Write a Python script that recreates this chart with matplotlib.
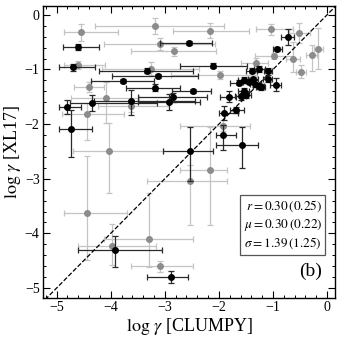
import numpy as np
import matplotlib
matplotlib.use("Agg")
from matplotlib import pyplot as plt
from matplotlib.ticker import MultipleLocator

# black points: x, y, x-, x+, y-, y+
bx = [-0.73, -4.60, -2.55, -4.70, -3.32, -2.10, -3.12, -3.78, -3.18, -2.48,
      -2.85, -3.63, -4.35, -2.93, -4.81, -4.73, -2.54, -1.57, -1.93, -3.92,
      -2.88, -0.92, -1.39, -1.25, -1.09, -1.10, -1.63, -1.54, -1.45, -1.37,
      -1.33, -1.26, -1.23, -0.95, -1.82, -1.60, -1.54, -1.50, -1.68, -1.90]
by = [-0.41, -0.59, -0.52, -0.96, -1.02, -0.93, -1.12, -1.21, -1.33, -1.39,
      -1.51, -1.57, -1.61, -1.59, -1.68, -2.09, -2.50, -2.38, -2.20, -4.30,
      -4.80, -0.62, -1.02, -0.99, -1.02, -1.17, -1.24, -1.19, -1.22, -1.18,
      -1.26, -1.30, -1.32, -1.28, -1.50, -1.48, -1.39, -1.47, -1.74, -1.79]
bx_lo = [0.12, 0.29, 0.53, 0.25, 0.89, 0.61, 0.86, 0.58, 0.53, 0.38,
         0.65, 0.67, 0.40, 0.57, 0.14, 0.22, 0.50, 0.49, 0.13, 0.68,
         0.44, 0.08, 0.10, 0.10, 0.08, 0.08, 0.17, 0.10, 0.10, 0.10,
         0.10, 0.10, 0.08, 0.10, 0.15, 0.10, 0.10, 0.10, 0.12, 0.10]
bx_hi = [0.12, 0.39, 0.43, 0.41, 0.85, 0.62, 0.73, 0.58, 0.46, 0.33,
         0.63, 1.18, 1.20, 0.58, 0.26, 0.38, 0.44, 0.30, 0.24, 0.86,
         0.31, 0.08, 0.10, 0.10, 0.08, 0.08, 0.18, 0.10, 0.10, 0.10,
         0.10, 0.10, 0.08, 0.10, 0.13, 0.10, 0.10, 0.10, 0.14, 0.26]
by_lo = [0.15, 0.05, 0.04, 0.06, 0.04, 0.05, 0.04, 0.04, 0.06, 0.04,
         0.08, 0.26, 0.15, 0.15, 0.13, 0.51, 0.55, 0.43, 0.27, 0.31,
         0.11, 0.04, 0.05, 0.05, 0.05, 0.06, 0.05, 0.05, 0.05, 0.05,
         0.06, 0.06, 0.05, 0.12, 0.10, 0.08, 0.06, 0.06, 0.05, 0.13]
by_hi = [0.15, 0.05, 0.04, 0.06, 0.04, 0.05, 0.04, 0.04, 0.06, 0.04,
         0.08, 0.20, 0.15, 0.15, 0.13, 0.35, 0.45, 0.33, 0.19, 0.25,
         0.11, 0.04, 0.05, 0.05, 0.05, 0.06, 0.05, 0.05, 0.05, 0.05,
         0.06, 0.06, 0.05, 0.12, 0.10, 0.08, 0.06, 0.06, 0.05, 0.13]

# grey points
gx = [-4.54, -3.19, -2.17, -1.04, -0.51, -3.08, -2.83, -4.60, -3.26, -1.98,
      -4.41, -4.08, -3.63, -4.43, -4.03, -2.54, -2.17, -1.92, -4.43, -3.97,
      -3.30, -3.09, -0.16, -0.28, -0.98, -0.63, -0.48, -1.31]
gy = [-0.32, -0.20, -0.29, -0.26, -0.33, -0.53, -0.67, -0.92, -0.99, -1.10,
      -1.32, -1.53, -1.67, -1.81, -2.50, -3.05, -2.84, -2.03, -3.63, -4.24,
      -4.10, -4.60, -0.62, -0.74, -0.75, -0.81, -1.04, -0.89]
gx_lo = [0.32, 1.10, 0.67, 0.27, 0.20, 1.04, 0.80, 0.27, 0.90, 0.90,
         0.26, 0.65, 0.60, 0.47, 0.67, 0.78, 0.54, 0.80, 0.43, 0.64,
         0.82, 0.54, 0.08, 0.10, 0.35, 0.13, 0.10, 0.29]
gx_hi = [0.67, 1.29, 0.72, 0.41, 0.20, 1.00, 0.77, 0.50, 0.90, 0.68,
         0.29, 0.60, 0.70, 0.68, 0.99, 0.69, 0.32, 0.50, 0.74, 0.80,
         0.83, 0.62, 0.08, 0.10, 0.35, 0.13, 0.10, 0.21]
gy_lo = [0.15, 0.15, 0.14, 0.10, 0.18, 0.11, 0.08, 0.07, 0.12, 0.07,
         0.10, 0.45, 0.10, 0.48, 0.77, 0.79, 1.01, 0.10, 0.86, 0.34,
         0.51, 0.10, 0.38, 0.28, 0.05, 0.23, 0.12, 0.10]
gy_hi = [0.15, 0.15, 0.14, 0.10, 0.18, 0.11, 0.08, 0.07, 0.12, 0.07,
         0.10, 0.31, 0.10, 0.20, 0.52, 0.30, 0.79, 0.10, 1.04, 0.42,
         0.83, 0.10, 0.38, 0.18, 0.05, 0.32, 0.12, 0.10]

stats = [r"$r = 0.30\,(0.25)$", r"$\mu = 0.30\,(0.22)$", r"$\sigma = 1.39\,(1.25)$"]

plt.rcParams['font.family'] = ['Liberation Serif', 'DejaVu Serif']
plt.rcParams['mathtext.fontset'] = 'stix'

fig = plt.figure(figsize=(3.42, 3.40), dpi=100)
ax = fig.add_axes([0.126, 0.124, 0.854, 0.858])

ax.errorbar(gx, gy, xerr=[gx_lo, gx_hi], yerr=[gy_lo, gy_hi], fmt='o',
            ms=4, mfc='#8c8c8c', mec='#8c8c8c', ecolor='#c4c4c4',
            elinewidth=0.9, capsize=2, capthick=0.9, zorder=2)
ax.errorbar(bx, by, xerr=[bx_lo, bx_hi], yerr=[by_lo, by_hi], fmt='o',
            ms=4, mfc='black', mec='black', ecolor='#2a2a2a',
            elinewidth=0.9, capsize=2, capthick=0.9, zorder=3)

ax.plot([-5.3, 0.2], [-5.3, 0.2], 'k--', lw=0.9, zorder=4)

ax.set_xlim(-5.25, 0.15)
ax.set_ylim(-5.18, 0.16)
ax.xaxis.set_major_locator(MultipleLocator(1))
ax.yaxis.set_major_locator(MultipleLocator(1))
ax.xaxis.set_minor_locator(MultipleLocator(0.2))
ax.yaxis.set_minor_locator(MultipleLocator(0.2))
ax.tick_params(which='both', direction='in', top=True, right=True, labelsize=10)
ax.tick_params(which='major', length=5, width=0.8, pad=2.5)
ax.tick_params(which='minor', length=2.5, width=0.7)
for s in ax.spines.values():
    s.set_linewidth(1.0)

ax.set_xlabel(r"$\log\,\gamma$ [CLUMPY]", fontsize=13, labelpad=1)
ax.set_ylabel(r"$\log\,\gamma$ [XL17]", fontsize=13, labelpad=1)

ax.text(0.955, 0.34, "\n".join(stats), transform=ax.transAxes, ha='right',
        va='top', fontsize=9.5, linespacing=1.25,
        bbox=dict(boxstyle='square,pad=0.25', fc='white', ec='#555555', lw=0.9))
ax.text(0.955, 0.06, "(b)", transform=ax.transAxes, ha='right', va='bottom',
        fontsize=14)

fig.savefig("out.png", dpi=100)
